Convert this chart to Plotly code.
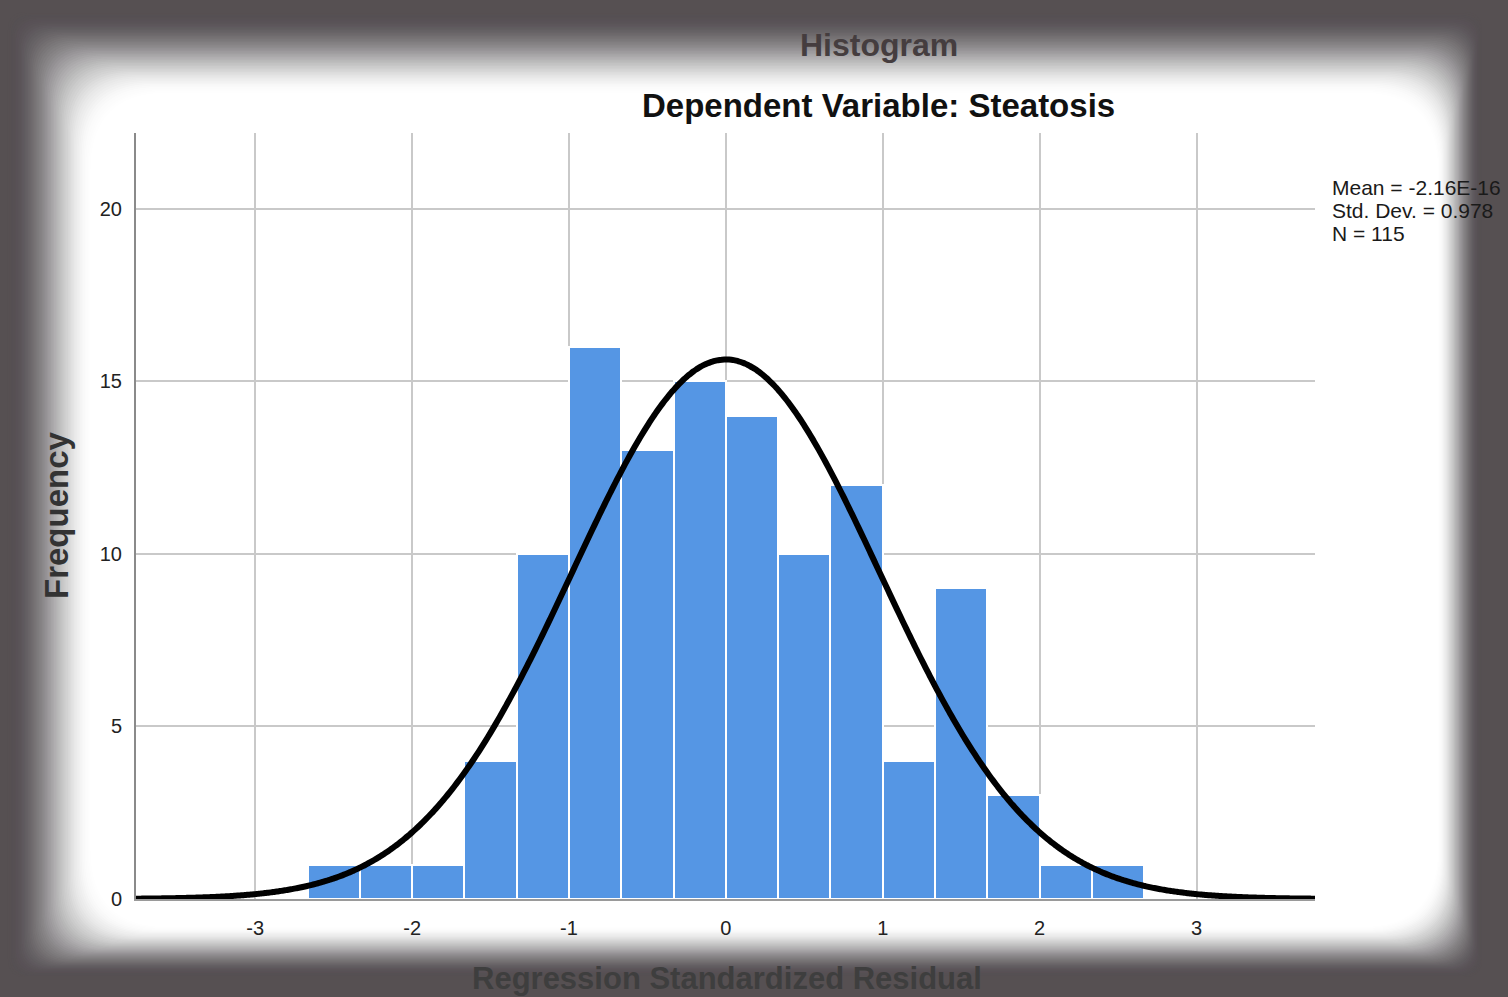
import numpy as np
import plotly.graph_objects as go

# ---------------- data ----------------
bin_edges = [-8/3, -7/3, -6/3, -5/3, -4/3, -3/3, -2/3, -1/3, 0.0,
             1/3, 2/3, 3/3, 4/3, 5/3, 6/3, 7/3, 8/3]
counts = [1, 1, 1, 4, 10, 16, 13, 15, 14, 10, 12, 4, 9, 3, 1, 1]
x_ticks = [-3, -2, -1, 0, 1, 2, 3]
y_ticks = [0, 5, 10, 15, 20]
stat_mean = -2.16e-16
stat_sd = 0.978
stat_n = 115
stats_lines = ["Mean = -2.16E-16", "Std. Dev. = 0.978", "N = 115"]

# ---------------- geometry ----------------
W, H = 1508, 997
L, R, T, B = 136, 1315, 133, 899
PW, PH = R - L, B - T


def px(x):
    return (x - L) / PW


def py(y):
    return (B - y) / PH


edges = np.array(bin_edges)
centers = (edges[:-1] + edges[1:]) / 2
widths = edges[1:] - edges[:-1]
bw = float(widths[0])

xr = [-3.76, 3.755]
xc = np.linspace(xr[0], xr[1], 500)
yc = stat_n * bw / (stat_sd * np.sqrt(2 * np.pi)) * np.exp(-0.5 * ((xc - stat_mean) / stat_sd) ** 2)

fig = go.Figure()
fig.add_trace(go.Bar(
    x=centers, y=counts, width=widths,
    marker=dict(color="#5596e4", line=dict(color="white", width=2)),
    showlegend=False, hoverinfo="x+y"))
fig.add_trace(go.Scatter(
    x=xc, y=yc, mode="lines", line=dict(color="black", width=6, shape="spline"),
    showlegend=False, hoverinfo="skip"))

# ---------------- vignette (stacked frames, uniform spacing) ----------------
L0 = dict(l=8, t=12, r=26, b=20)
L1 = dict(l=94, t=96, r=72, b=72)
M = 56


def smoothstep(t):
    t = min(max(t, 0.0), 1.0)
    return 3 * t * t - 2 * t ** 3


def P(x, y):
    return f"{px(x):.5f},{py(y):.5f}"


def rrect(x0, y0, x1, y1, r):
    return (f"M{P(x0 + r, y0)} L{P(x1 - r, y0)} Q{P(x1, y0)} {P(x1, y0 + r)} "
            f"L{P(x1, y1 - r)} Q{P(x1, y1)} {P(x1 - r, y1)} "
            f"L{P(x0 + r, y1)} Q{P(x0, y1)} {P(x0, y1 - r)} "
            f"L{P(x0, y0 + r)} Q{P(x0, y0)} {P(x0 + r, y0)} Z")


# transmission wanted in band k (k=0: outside L0, k=1..M between layers)
Tband = [0.0] + [smoothstep((k - 0.5) / M) for k in range(1, M + 1)] + [1.0]
shapes = []
outer = f"M{P(-5, -5)} L{P(W + 5, -5)} L{P(W + 5, H + 5)} L{P(-5, H + 5)} Z "
for k in range(M, -1, -1):
    op = 1 - Tband[k] / Tband[k + 1]
    op = float(min(max(op, 0.0), 1.0))
    u = k / M
    d = {s: L0[s] + (L1[s] - L0[s]) * u for s in L0}
    rad = 18 + 62 * u
    path = outer + rrect(d["l"], d["t"], W - d["r"], H - d["b"], rad)
    shapes.append(dict(type="path", path=path, xref="paper", yref="paper",
                       fillcolor="#565052", opacity=op, line=dict(width=0),
                       fillrule="evenodd", layer="below"))

FONT = "Liberation Sans, Arial"
annotations = [
    dict(text="<b>Histogram</b>", x=px(879), y=py(45), xref="paper", yref="paper",
         showarrow=False, font=dict(family=FONT, size=32, color="#453d3f"),
         xanchor="center", yanchor="middle"),
    dict(text="<b>Dependent Variable: Steatosis</b>", x=px(878), y=py(105), xref="paper", yref="paper",
         showarrow=False, font=dict(family=FONT, size=33, color="#111111"),
         xanchor="center", yanchor="middle"),
    dict(text="<b>Frequency</b>", x=px(56), y=py(515), xref="paper", yref="paper",
         showarrow=False, textangle=-90,
         font=dict(family=FONT, size=33, color="#333333"),
         xanchor="center", yanchor="middle"),
    dict(text="<b>Regression Standardized Residual</b>", x=px(727), y=py(978), xref="paper", yref="paper",
         showarrow=False, font=dict(family=FONT, size=31, color="#3e3e3e"),
         xanchor="center", yanchor="middle"),
]
for j, line in enumerate(stats_lines):
    annotations.append(dict(text=line, x=px(1330), y=py(187 + 23 * j), xref="paper", yref="paper",
                            showarrow=False, align="left",
                            font=dict(family=FONT, size=21, color="#1a1a1a"),
                            xanchor="left", yanchor="middle"))

fig.update_layout(
    width=W, height=H,
    margin=dict(l=L, r=W - R, t=T, b=H - B, pad=0),
    paper_bgcolor="white", plot_bgcolor="white",
    bargap=0, shapes=shapes, annotations=annotations,
    font=dict(family=FONT, color="#222222"),
)
fig.update_xaxes(range=xr, tickvals=x_ticks, ticktext=[str(v) for v in x_ticks],
                 showgrid=True, gridcolor="#c9c9c9", gridwidth=2, zeroline=False,
                 showline=True, linecolor="#9a9a9a", linewidth=2,
                 ticks="", tickfont=dict(size=20, color="#222222"), ticklabelstandoff=10)
fig.update_yaxes(range=[0, 22.2], tickvals=y_ticks, ticktext=[str(v) for v in y_ticks],
                 showgrid=True, gridcolor="#c9c9c9", gridwidth=2, zeroline=False,
                 showline=True, linecolor="#8a8a8a", linewidth=2,
                 ticks="", tickfont=dict(size=20, color="#222222"), ticklabelstandoff=8)

fig.write_html("out.html", config={"displayModeBar": False},
               post_script="document.body.style.margin='0';document.body.style.overflow='hidden';")
